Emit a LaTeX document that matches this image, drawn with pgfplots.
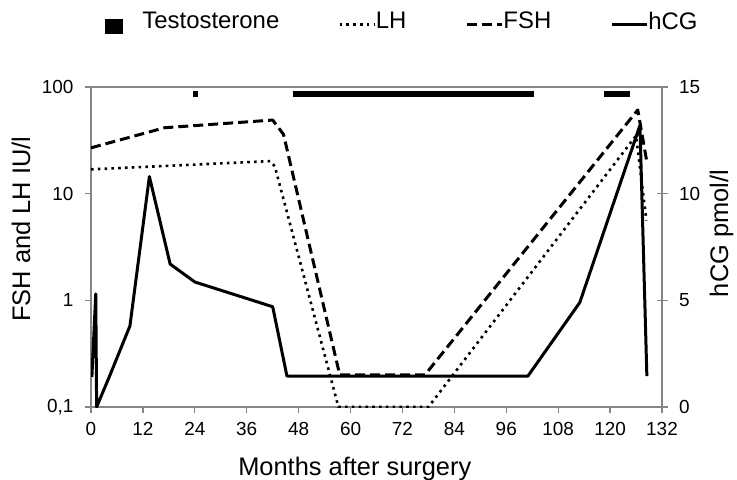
\documentclass[border=0pt]{standalone}
\usepackage{fontspec}
\setmainfont{Liberation Sans}
\usepackage{pgfplots}
\pgfplotsset{compat=1.18}
\definecolor{axgray}{RGB}{134,134,134}
\begin{document}
\begin{tikzpicture}
\useasboundingbox (-91bp,-73bp) rectangle (646bp,407bp);
\pgfplotsset{
  common/.style={
    scale only axis, width=571bp, height=320bp, at={(0,0)}, anchor=south west,
    xmin=0, xmax=132,
    axis line style={draw=axgray, line width=1.2bp},
    every tick/.style={draw=axgray, line width=1.2bp},
    /pgf/number format/assume math mode=true,
    tick label style={font=\fontsize{19}{22}\selectfont},
    label style={font=\fontsize{25.5}{30}\selectfont},
  }
}
\begin{axis}[common,
  ymode=log, ymin=0.1, ymax=100,
  xtick={0,12,...,132}, xtick pos=bottom, ytick pos=left,
  ytick={0.1,1,10,100}, yticklabels={{0,1},1,10,100},
  yminorticks=false,
  tick align=outside, major tick length=6bp,
  xticklabel style={yshift=-6bp},
  yticklabel style={xshift=-8bp},
  xlabel={Months after surgery},
  ylabel={FSH and LH IU/l},
  xlabel style={at={(axis description cs:0.462,-0.2156)}, anchor=base},
  ylabel style={at={(axis description cs:-0.1068,0.556)}, anchor=base},
]
% LH
\addplot[black, line width=2.6bp, dash pattern=on 2.6bp off 4.2bp, line join=round] coordinates {
(0,16.9) (41.5,20.2) (42.5,18) (57.2,0.1) (78,0.1) (126,35) (128.4,5.6)};
% FSH
\addplot[black, line width=3bp, dash pattern=on 10bp off 5bp, line join=round] coordinates {
(0,26.9) (17,41.5) (42,49) (44.5,36) (57.5,0.2) (77.2,0.2) (126.4,61) (128.5,19.8)};
% Testosterone
\addplot[black, line width=6bp] coordinates {(23.6,86) (24.8,86)};
\addplot[black, line width=6bp] coordinates {(46.6,86) (102.3,86)};
\addplot[black, line width=6bp] coordinates {(118.6,86) (124.6,86)};
\end{axis}
\begin{axis}[common, hide x axis, axis y line*=right,
  ymin=0, ymax=15, ytick={0,5,10,15},
  tick align=center, major tick length=11bp,
  yticklabel style={xshift=8bp},
  ylabel={hCG pmol/l},
  ylabel style={at={(axis description cs:1.1156,0.542)}, anchor=base},
  legend columns=4,
  legend image code/.code={\path[draw=none,fill=none] (0bp,-15bp) rectangle (35bp,15bp); \draw[#1] (0bp,-3bp) -- (35bp,-3bp);},
  legend style={at={(axis description cs:0.0245,1.205)}, anchor=west,
    draw=none, fill=none, inner sep=0pt, row sep=0pt,
    font=\fontsize{24}{28}\selectfont,
    nodes={inner sep=0pt},
    /tikz/every even column/.append style={column sep=59bp}},
]
\addlegendimage{legend image code/.code={\path[draw=none,fill=none] (0bp,-15bp) rectangle (37bp,15bp); \fill[black] (0bp,-11.5bp) rectangle (16.7bp,2bp);}}
\addlegendentry{Testosterone}
\addlegendimage{legend image code/.code={\path[draw=none,fill=none] (0bp,-15bp) rectangle (35bp,15bp); \draw[black, line width=2.6bp, dash pattern=on 2.6bp off 4.2bp] (0bp,-3bp) -- (35bp,-3bp);}}
\addlegendentry{LH}
\addlegendimage{legend image code/.code={\path[draw=none,fill=none] (0bp,-15bp) rectangle (35bp,15bp); \draw[black, line width=3bp, dash pattern=on 10bp off 5bp] (0bp,-3bp) -- (35bp,-3bp);}}
\addlegendentry{FSH}
\addplot[black, line width=3bp, line join=round] coordinates {
(0.2,1.4) (1.1,5.3) (1.3,0) (4.4,1.5) (9,3.8) (13.5,10.8) (18.3,6.7) (24,5.86) (42,4.7) (45.3,1.45) (101,1.45) (113,4.9) (126.9,13.2) (128.5,1.45)};
\addlegendentry{hCG}
\end{axis}
\end{tikzpicture}
\end{document}
